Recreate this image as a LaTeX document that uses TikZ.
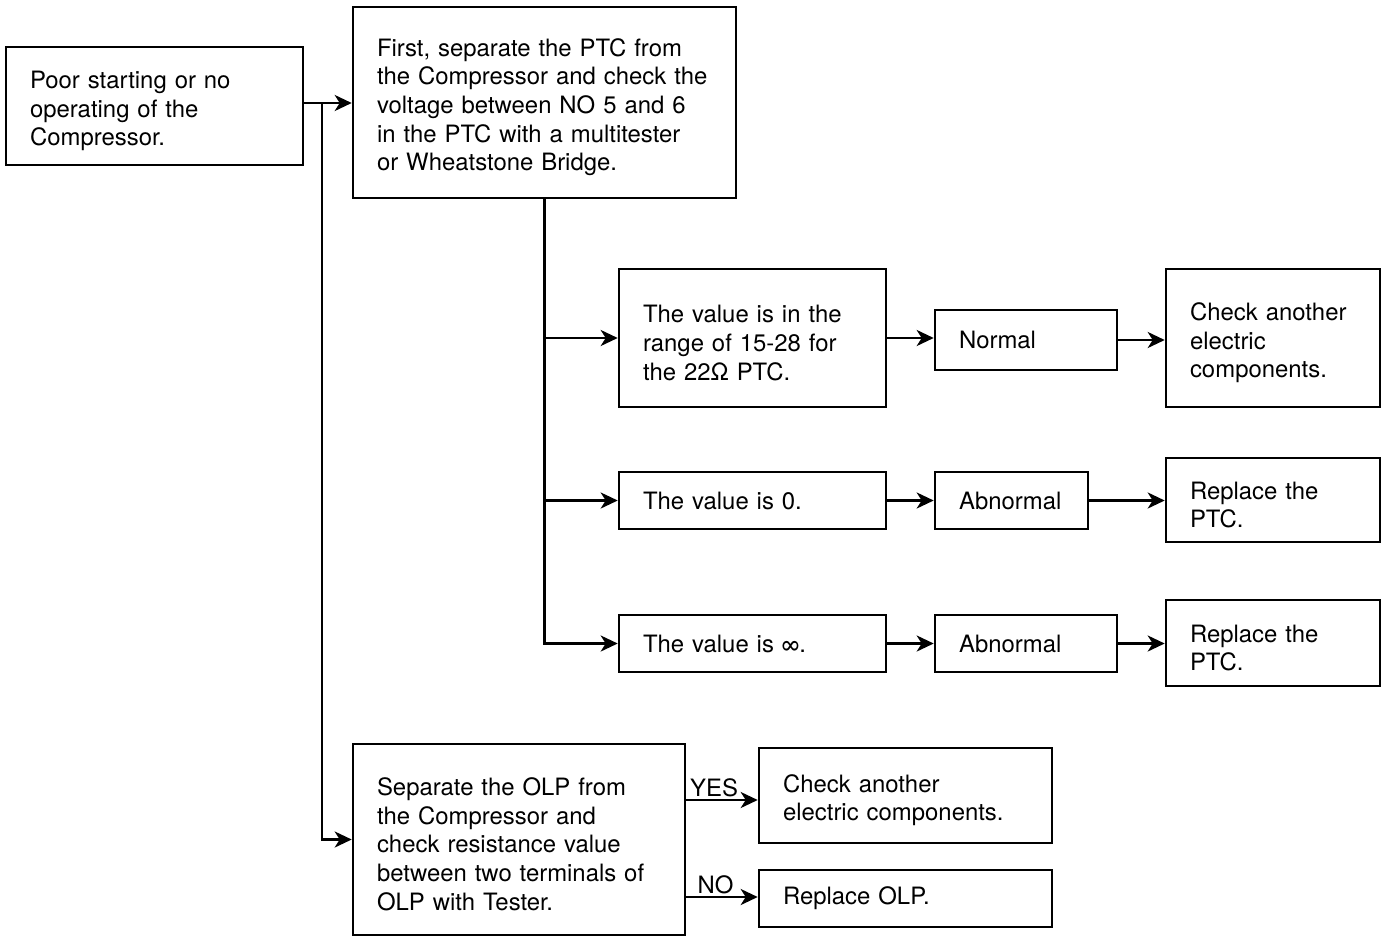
\documentclass[tikz,border=0pt]{standalone}
\usepackage{fontspec}
\setmainfont{TeX Gyre Heros}
\usetikzlibrary{calc, positioning}
\usetikzlibrary{arrows.meta}

\tikzset{
  box/.style={draw, line width=1.5pt, align=left, inner xsep=0.48cm, inner ysep=0pt,
    font=\fontsize{13.6}{16.3}\selectfont},
  tall/.style={execute at begin node={\rule{0pt}{15.5pt}}},
  link/.style={line width=1.5pt, -{Stealth[length=3.4mm, width=3.2mm, inset=1mm]}},
  tag/.style={above, inner sep=1pt, font=\fontsize{13.6}{16.3}\selectfont},
}

\begin{document}
\begin{tikzpicture}[x=0.02cm, y=-0.02cm]
\useasboundingbox (0,0) rectangle (1388,936);

% left column
\node[box, tall, text width=4.98cm, minimum height=2.36cm] (poor) at (154.5,106)
  {Poor starting or no\\operating of the\\Compressor.};
\node[box, tall, text width=6.70cm, minimum height=3.82cm] (first) at (544.5,102.5)
  {First, separate the PTC from\\the Compressor and check the\\voltage between NO 5 and 6\\in the PTC with a multitester\\or Wheatstone Bridge.};
\node[box, tall, text width=5.68cm, minimum height=3.82cm] (olp) at (519,839.5)
  {Separate the OLP from\\the Compressor and\\check resistance value\\between two terminals of\\OLP with Tester.};

% PTC checks
\node[box, tall, text width=4.38cm, minimum height=2.76cm] (range) at (752.5,338)
  {The value is in the\\range of 15-28 for\\the 22Ω PTC.};
\node[box, text width=4.38cm, minimum height=1.14cm] (zero) at (752.5,500.5)
  {The value is 0.};
\node[box, text width=4.38cm, minimum height=1.14cm] (inf) at (752.5,643.5)
  {The value is ∞.};

\node[box, text width=2.68cm, minimum height=1.2cm] (normal) at (1026,340) {Normal};
\node[box, text width=2.10cm, minimum height=1.14cm] (abnA) at (1011.5,500.5) {Abnormal};
\node[box, text width=2.68cm, minimum height=1.14cm] (abnB) at (1026,643.5) {Abnormal};

\node[box, tall, text width=3.32cm, minimum height=2.76cm] (checkA) at (1273,338)
  {Check another\\electric\\components.};
\node[box, tall, text width=3.32cm, minimum height=1.68cm] (replA) at (1273,500)
  {Replace the\\PTC.};
\node[box, tall, text width=3.32cm, minimum height=1.72cm] (replB) at (1273,643)
  {Replace the\\PTC.};

% OLP results
\node[box, tall, text width=4.90cm, minimum height=1.9cm] (checkB) at (905.5,795.5)
  {Check another\\electric components.};
\node[box, text width=4.90cm, minimum height=1.14cm] (replOLP) at (905.5,898.5)
  {Replace OLP.};

% connectors
\coordinate (split) at (322,103);
\draw[link] (poor.east |- split) -- (split -| first.west);
\draw[link] (split) |- (olp.west);

\draw[link] (first.south) |- (inf.west);
\draw[link] (first.south |- range.west) -- (range.west);
\draw[link] (first.south |- zero.west) -- (zero.west);

\draw[link] (range.east) -- (range.east -| normal.west);
\draw[link] (normal.east) -- (normal.east -| checkA.west);
\draw[link] (zero.east) -- (abnA.west);
\draw[link] (abnA.east) -- (abnA.east -| replA.west);
\draw[link] (inf.east) -- (abnB.west);
\draw[link] (abnB.east) -- (abnB.east -| replB.west);

\coordinate (yes) at (685,800);
\coordinate (no) at (685,897);
\draw[link] (yes) -- (yes -| checkB.west) node[tag, pos=0.4] {YES};
\draw[link] (no) -- (no -| replOLP.west) node[tag, pos=0.42] {NO};
\end{tikzpicture}
\end{document}
